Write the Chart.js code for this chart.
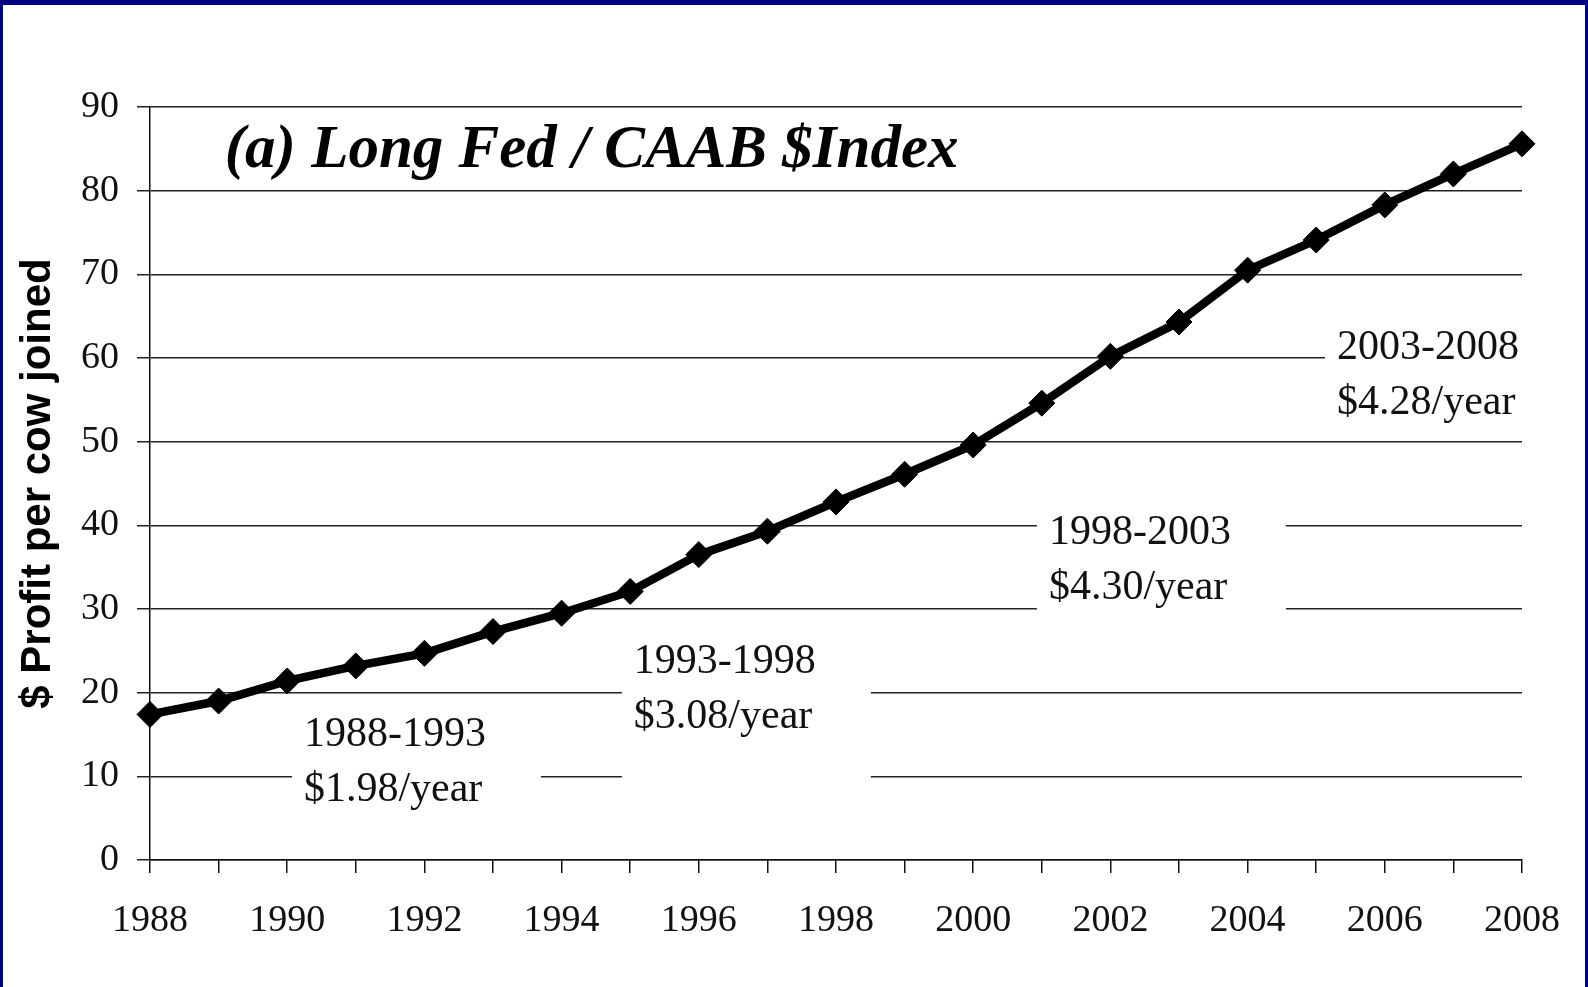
<!DOCTYPE html>
<html>
<head>
<meta charset="utf-8">
<script src="https://cdn.jsdelivr.net/npm/chart.js@4.4.0/dist/chart.umd.min.js"></script>
<style>
  html, body { margin: 0; padding: 0; width: 1588px; height: 987px; overflow: hidden; background: #000080; }
  #wrap { position: absolute; left: 3px; top: 5px; width: 1582px; height: 982px; background: #fff; }
</style>
</head>
<body>
<div id="wrap"><canvas id="chart"></canvas></div>
<script>
// data
const years = [1988, 1989, 1990, 1991, 1992, 1993, 1994, 1995, 1996, 1997, 1998,
               1999, 2000, 2001, 2002, 2003, 2004, 2005, 2006, 2007, 2008];
const profit = [17.4, 19.0, 21.4, 23.2, 24.7, 27.3, 29.5, 32.1, 36.5, 39.3, 42.8,
                46.1, 49.6, 54.6, 60.2, 64.3, 70.5, 74.1, 78.3, 82.0, 85.6];
const chartTitle = '(a) Long Fed / CAAB $Index';
const yAxisTitle = '$ Profit per cow joined';
const periodText = [
    ['1988-1993', '$1.98/year'],
    ['1993-1998', '$3.08/year'],
    ['1998-2003', '$4.30/year'],
    ['2003-2008', '$4.28/year']
];

// where the period labels sit (text centre year, first baseline value)
const periodSpots = [
    { x: 1991.57, y: 13.6, extra: 0 },
    { x: 1996.38, y: 22.3, extra: 45 },
    { x: 2002.43, y: 37.8, extra: 0 },
    { x: 2006.63, y: 59.9, extra: 0 }
];
const titleSpot = { x: 1989.09, y: 82.8 };

const serif = '"Liberation Serif", "Times New Roman", serif';

// labels with white boxes knocking out the gridlines behind them
const labelsPlugin = {
    id: 'labels',
    beforeDatasetsDraw(chart) {
        const { ctx, scales: { x, y } } = chart;
        ctx.save();
        ctx.font = '42px ' + serif;
        ctx.textAlign = 'left';
        ctx.textBaseline = 'alphabetic';
        periodText.forEach((lines, i) => {
            const spot = periodSpots[i];
            const cx = x.getPixelForValue(spot.x);
            const by = y.getPixelForValue(spot.y);
            const w = Math.max(...lines.map(t => ctx.measureText(t).width));
            const left = cx - w / 2;
            ctx.fillStyle = '#fff';
            ctx.fillRect(left - 12, by - 36, w + 67, 55 * lines.length + 2 + spot.extra);
            ctx.fillStyle = '#111';
            lines.forEach((t, j) => ctx.fillText(t, left, by + j * 55));
        });

        ctx.font = 'bold italic 61px ' + serif;
        ctx.fillStyle = '#000';
        ctx.fillText(chartTitle, x.getPixelForValue(titleSpot.x), y.getPixelForValue(titleSpot.y));
        ctx.restore();
    }
};

const ctx = document.getElementById('chart').getContext('2d');
new Chart(ctx, {
    type: 'line',
    data: {
        datasets: [{
            label: chartTitle,
            data: years.map((yr, i) => ({ x: yr, y: profit[i] })),
            borderColor: '#000',
            borderWidth: 8.5,
            backgroundColor: '#000',
            pointStyle: 'rectRot',
            pointRadius: 13,
            pointBorderWidth: 1,
            pointBackgroundColor: '#000',
            tension: 0,
            clip: false
        }]
    },
    options: {
        responsive: true,
        maintainAspectRatio: false,
        animation: false,
        layout: { padding: { top: 102, right: 63, left: 0, bottom: 0 } },
        scales: {
            x: {
                type: 'linear',
                min: 1988,
                max: 2008,
                afterFit: scale => { scale.height = 127; },
                ticks: {
                    stepSize: 1,
                    autoSkip: false,
                    maxRotation: 0,
                    padding: 25,
                    color: '#111',
                    font: { family: serif, size: 38 },
                    callback: v => (v % 2 === 0 ? String(v) : '')
                },
                grid: { drawOnChartArea: false, tickLength: 13, color: '#111', lineWidth: 1.5 },
                border: { color: '#111', width: 1.5 }
            },
            y: {
                min: 0,
                max: 90,
                afterFit: scale => { scale.width = 147; },
                ticks: {
                    stepSize: 10,
                    padding: 18,
                    color: '#111',
                    font: { family: serif, size: 38 }
                },
                grid: { tickLength: 13, color: '#222', lineWidth: 1.5 },
                border: { color: '#111', width: 1.5 },
                title: {
                    display: true,
                    text: yAxisTitle,
                    color: '#000',
                    font: { family: '"Liberation Sans", Arial, sans-serif', size: 42, weight: 'bold' },
                    padding: { top: 10, bottom: 0 }
                }
            }
        },
        plugins: {
            legend: { display: false },
            tooltip: { enabled: false }
        }
    },
    plugins: [labelsPlugin]
});
</script>
</body>
</html>
